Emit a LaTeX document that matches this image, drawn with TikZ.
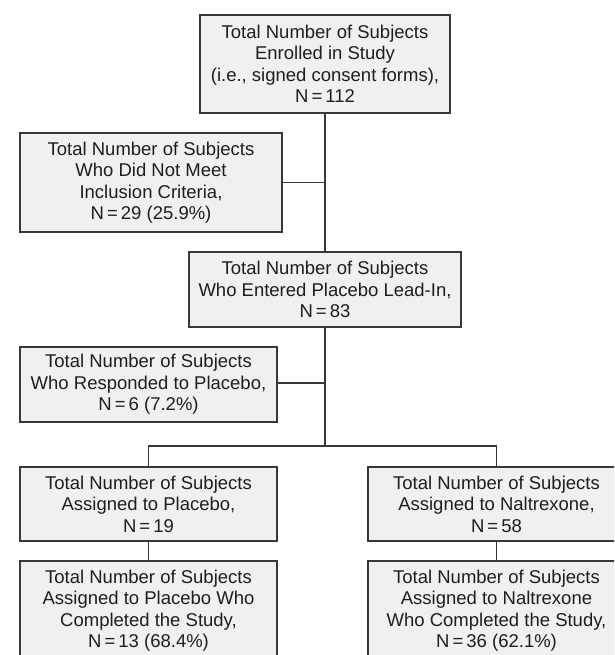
\documentclass[tikz,border=0pt]{standalone}
\usepackage{fontspec}
\setmainfont{Liberation Sans}
\definecolor{boxfill}{HTML}{F0F0F0}
\definecolor{edge}{HTML}{383838}
\definecolor{ink}{HTML}{1E1E1E}
\begin{document}
\begin{tikzpicture}[x=1pt,y=-1pt,
  flowbox/.style={draw=edge, fill=boxfill, line width=1.2pt, rectangle, align=center,
    text=ink, inner sep=0pt, font=\fontsize{18.5}{21.5}\selectfont},
  link/.style={draw=edge, line width=1.2pt}]
\useasboundingbox (0,0) rectangle (614,655);
\clip (0,0) rectangle (614,655);
\node[flowbox, minimum width=250pt, minimum height=98pt] (enrolled) at (325,64)
  {Total Number of Subjects\\Enrolled in Study\\(i.e., signed consent forms),\\N\,=\,112};
\node[flowbox, minimum width=262pt, minimum height=99pt] (notmeet) at (151,182.5)
  {Total Number of Subjects\\Who Did Not Meet\\Inclusion Criteria,\\N\,=\,29 (25.9\%)};
\node[flowbox, minimum width=272pt, minimum height=75pt] (leadin) at (325,289.5)
  {Total Number of Subjects\\Who Entered Placebo Lead-In,\\N\,=\,83};
\node[flowbox, minimum width=257pt, minimum height=75pt] (responded) at (148.5,384.5)
  {Total Number of Subjects\\Who Responded to Placebo,\\N\,=\,6 (7.2\%)};
\node[flowbox, minimum width=257pt, minimum height=74pt] (placebo) at (148.5,504)
  {Total Number of Subjects\\Assigned to Placebo,\\N\,=\,19};
\node[flowbox, minimum width=257pt, minimum height=74pt] (naltrexone) at (496.5,504)
  {Total Number of Subjects\\Assigned to Naltrexone,\\N\,=\,58};
\node[flowbox, minimum width=257pt, minimum height=99pt] (placebodone) at (148.5,610.5)
  {Total Number of Subjects\\Assigned to Placebo Who\\Completed the Study,\\N\,=\,13 (68.4\%)};
\node[flowbox, minimum width=257pt, minimum height=99pt] (naltrexonedone) at (496.5,610.5)
  {Total Number of Subjects\\Assigned to Naltrexone\\Who Completed the Study,\\N\,=\,36 (62.1\%)};
\coordinate (j1) at (325,182.5);
\coordinate (j2) at (325,383);
\coordinate (branch) at (325,446);
\draw[link] (enrolled.south) -- (leadin.north);
\draw[link] (notmeet.east) -- (j1);
\draw[link] (leadin.south) -- (branch);
\draw[link] (responded.east |- j2) -- (j2);
\draw[link] (placebo.north) |- (branch) -| (naltrexone.north);
\draw[link] (placebo.south) -- (placebodone.north);
\draw[link] (naltrexone.south) -- (naltrexonedone.north);
\end{tikzpicture}
\end{document}
